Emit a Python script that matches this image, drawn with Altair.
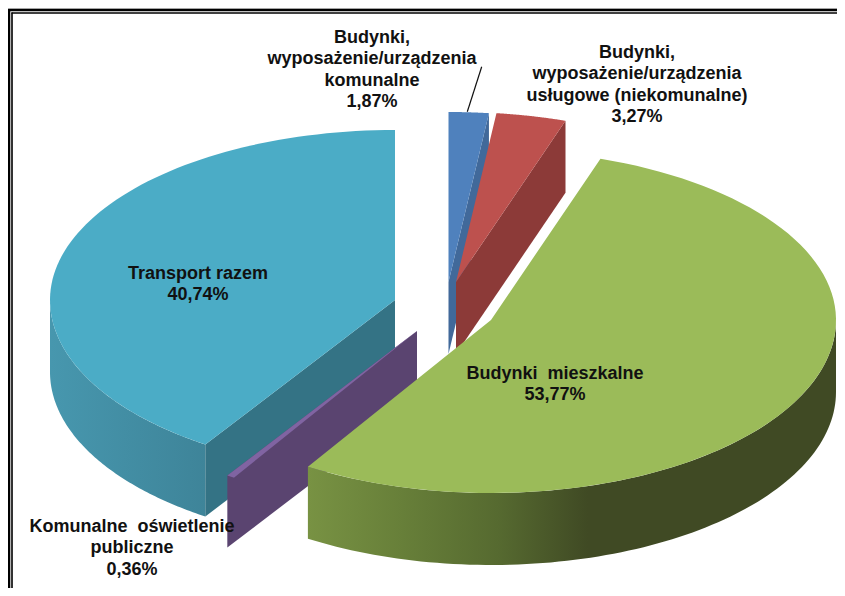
import math
import altair as alt
import pandas as pd

# ---- chart values (clockwise from 12 o'clock) ----
categories = [
    "Budynki,\nwyposażenie/urządzenia\nkomunalne",
    "Budynki,\nwyposażenie/urządzenia\nusługowe (niekomunalne)",
    "Budynki\u00a0 mieszkalne",
    "Komunalne\u00a0 oświetlenie\npubliczne",
    "Transport razem",
]
shares = [1.87, 3.27, 53.77, 0.36, 40.74]

# ---- styling and layout (page pixels) ----
top_colors = ["#4f81bd", "#bd514e", "#9bbb59", "#8064a2", "#4bacc6"]
cut_colors = ["#41699a", "#8c3a38", None, "#5a4470", "#347385"]
centers = [(448.5, 282), (456, 282), (491, 320), (417, 331), (395, 300)]
label_pos = [(372, 29), (637, 44), (555, 364.5), (132, 518), (198, 265)]
A, B_BACK, B_FRONT, DEPTH = 345.0, 170.0, 173.0, 72
OFF = 8
W, H = 829, 580
total = sum(shares)


def rim(c, t):
    r = math.radians(t)
    b = B_BACK if math.cos(r) > 0 else B_FRONT
    return (c[0] + A * math.sin(r), c[1] - b * math.cos(r))


def arc_pts(c, t0, t1, n=90):
    return [rim(c, t0 + (t1 - t0) * i / n) for i in range(n + 1)]


def shape(points, fill):
    ring = [list(p) for p in points] + [list(points[0])]
    feature = {"type": "Feature", "properties": {},
               "geometry": {"type": "Polygon", "coordinates": [ring]}}
    return alt.Chart(alt.Data(values=[feature])).mark_geoshape(
        fill=fill, strokeWidth=0, stroke="transparent"
    ).project(type="identity", scale=1, translate=[-OFF, -OFF])


def down(pts):
    return [(x, y + DEPTH) for x, y in pts]


def gradient(stops):
    return alt.LinearGradient(
        gradient="linear", x1=0, x2=1, y1=0, y2=0,
        stops=[alt.GradientStop(color=c, offset=o) for o, c in stops],
    )


angles = []
acc = 0.0
for s in shares:
    angles.append((acc, acc + s / total * 360))
    acc += s / total * 360

layers = []
for i in [0, 1, 4, 3, 2]:
    c = centers[i]
    t0, t1 = angles[i]
    if i == 2:  # green outer wall
        wall = arc_pts(c, 90, t1)
        layers.append(shape(wall + down(wall)[::-1], gradient(
            [(0, "#789243"), (0.18, "#677f39"), (0.36, "#566a30"), (0.53, "#404a24"), (1, "#404a24")])))
    if i == 4:  # transport outer wall and cut face
        wall = arc_pts(c, t0, 270)
        layers.append(shape(wall + down(wall)[::-1], gradient(
            [(0, "#4797ae"), (1, "#3e8499")])))
        end = rim(c, t0)
        layers.append(shape([c, end, (end[0], end[1] + DEPTH), (c[0], c[1] + DEPTH)], cut_colors[i]))
    if i in (0, 1, 3):  # visible cut face
        end = rim(c, t1)
        layers.append(shape([c, end, (end[0], end[1] + DEPTH), (c[0], c[1] + DEPTH)], cut_colors[i]))
    layers.append(shape([c] + arc_pts(c, t0, t1), top_colors[i]))

labels = pd.DataFrame({
    "text": [f"{n}\n{str(s).replace('.', ',')}%" for n, s in zip(categories, shares)],
    "x": [p[0] - OFF for p in label_pos],
    "y": [p[1] - OFF for p in label_pos],
})
text = alt.Chart(labels).mark_text(
    font="Liberation Sans", fontWeight="bold", fontSize=18, color="#111111",
    lineBreak="\n", lineHeight=21.3, align="center", baseline="top",
).encode(x=alt.X("x:Q", scale=None), y=alt.Y("y:Q", scale=None), text="text:N")

blank = alt.Data(values=[{"a": 1}])


def rule(x, y, x2=None, y2=None, width=1.0, color="black"):
    enc = {"x": alt.value(x - OFF), "y": alt.value(y - OFF)}
    if x2 is not None:
        enc["x2"] = alt.value(x2 - OFF)
    if y2 is not None:
        enc["y2"] = alt.value(y2 - OFF)
    return alt.Chart(blank).mark_rule(color=color, strokeWidth=width).encode(**enc)


frame = [
    rule(9, 9, y2=596, width=2.6),
    rule(12, 12.5, y2=596, width=1.6),
    rule(8, 10, x2=845, width=2.6),
    rule(11.5, 13, x2=845, width=1.6),
]
leader = rule(481.7, 66.7, x2=467.3, y2=111.7, width=1.2, color="#111111")

chart = alt.layer(*layers, *frame, leader, text).properties(
    width=W, height=H, padding=0,
    autosize=alt.AutoSizeParams(type="none"),
).configure_view(strokeWidth=0).configure(background="white")

chart.save("out.html", embed_options={"renderer": "svg", "actions": False})
